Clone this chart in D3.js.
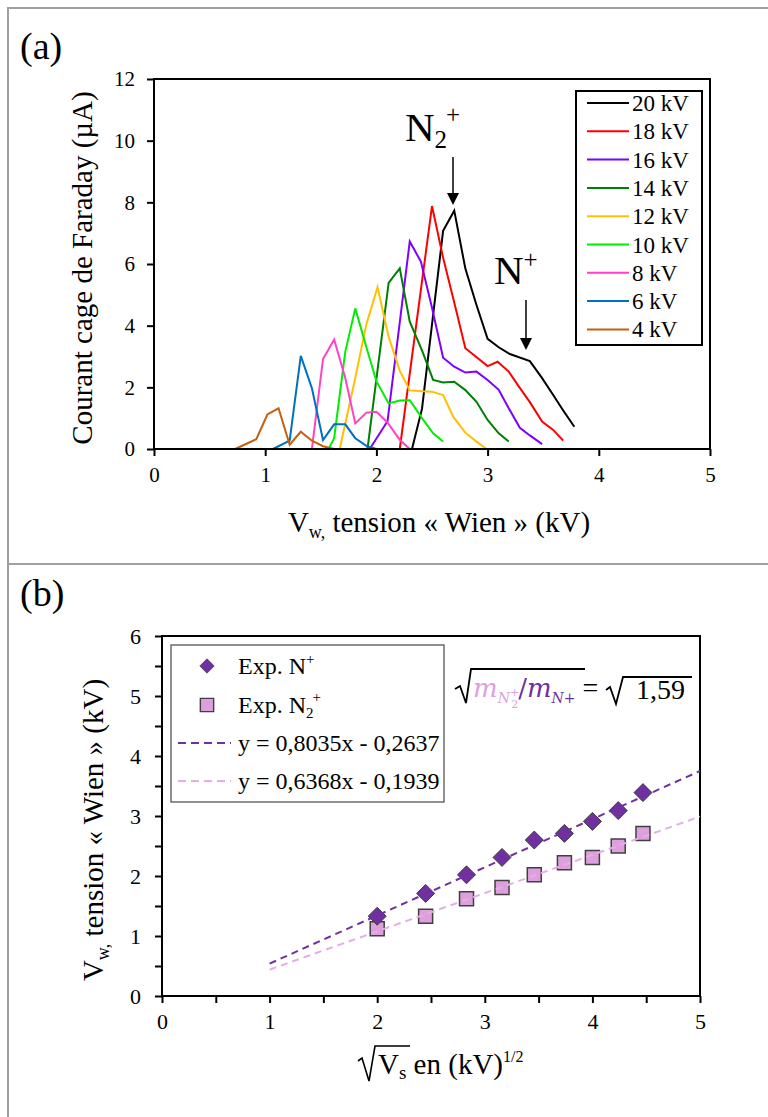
<!DOCTYPE html>
<html><head><meta charset="utf-8">
<script src="https://cdn.jsdelivr.net/npm/d3@7"></script>
<style>body{margin:0;background:#fff;} svg{display:block;font-family:"Liberation Serif","Times New Roman",serif;}</style>
</head><body><svg id="c" width="768" height="1117"></svg>
<script>
// ---------- Panel (a) data : [V_w (kV), current (µA)] ----------
const seriesLabels = ["20 kV","18 kV","16 kV","14 kV","12 kV","10 kV","8 kV","6 kV","4 kV"];
const seriesColors = ["#000000","#ff0000","#7f00ff","#008000","#ffc000","#00ee00","#ff40c8","#0070c0","#c5600f"];
const s20 = [[2.32,0],[2.41,1.3],[2.6,7.08],[2.7,7.73],[2.8,5.85],[2.9,4.67],[3.0,3.57],[3.1,3.3],[3.2,3.08],[3.38,2.85],[3.49,2.3],[3.59,1.75],[3.68,1.25],[3.78,0.72]];
const s18 = [[2.21,0],[2.5,7.88],[2.6,6.2],[2.7,4.75],[2.8,3.27],[3.0,2.69],[3.09,2.83],[3.19,2.51],[3.28,2.03],[3.38,1.52],[3.49,0.89],[3.59,0.62],[3.68,0.27]];
const s16 = [[1.94,0],[2.1,0.9],[2.3,6.73],[2.4,6.08],[2.5,4.58],[2.6,2.96],[2.7,2.67],[2.8,2.48],[2.9,2.51],[3.0,2.24],[3.1,1.92],[3.19,1.32],[3.29,0.69],[3.38,0.44],[3.49,0.16]];
const s14 = [[1.92,0],[2.11,5.39],[2.21,5.86],[2.3,4.13],[2.41,3.2],[2.51,2.24],[2.6,2.16],[2.7,2.18],[2.8,1.91],[2.9,1.53],[3.0,0.94],[3.1,0.51],[3.19,0.24]];
const s12 = [[1.67,0],[1.81,2.3],[1.91,4.05],[2.01,5.25],[2.11,3.64],[2.21,2.54],[2.3,1.9],[2.41,1.87],[2.5,1.86],[2.6,1.75],[2.69,1.05],[2.8,0.53],[2.9,0.24],[2.99,0]];
const s10 = [[1.57,0],[1.62,0.35],[1.72,3.15],[1.81,4.56],[1.91,3.3],[2.0,2.2],[2.11,1.48],[2.21,1.57],[2.3,1.58],[2.41,1.0],[2.51,0.51],[2.6,0.24]];
const s8  = [[1.42,0],[1.52,2.92],[1.62,3.55],[1.72,2.3],[1.81,0.83],[1.91,1.18],[2.0,1.21],[2.1,0.86],[2.21,0.3],[2.3,0]];
const s6  = [[1.07,0],[1.22,0.27],[1.32,3.02],[1.42,1.97],[1.52,0.29],[1.62,0.8],[1.72,0.8],[1.81,0.35],[1.92,0.08],[2.0,0]];
const s4  = [[0.73,0],[0.92,0.32],[1.02,1.12],[1.12,1.32],[1.22,0.14],[1.32,0.56],[1.42,0.27],[1.52,0.09],[1.62,0]];
const seriesA = [s20,s18,s16,s14,s12,s10,s8,s6,s4];
const xTicksA = [0,1,2,3,4,5];
const yTicksA = [0,2,4,6,8,10,12];

// ---------- Panel (b) data ----------
const sqrtVs   = [2.0,2.45,2.83,3.16,3.46,3.74,4.0,4.24,4.47];
const vwNplus  = [1.33,1.71,2.02,2.31,2.6,2.71,2.91,3.09,3.39];
const vwN2plus = [1.12,1.33,1.62,1.81,2.02,2.22,2.31,2.5,2.71];
const fitX      = [1,5];
const fitNplus  = [0.54,3.75];
const fitN2plus = [0.44,2.99];
const xTicksB = [0,0.5,1,1.5,2,2.5,3,3.5,4,4.5,5];
const yTicksB = [0,0.5,1,1.5,2,2.5,3,3.5,4,4.5,5,5.5,6];

const FONT = "'Liberation Serif','Times New Roman',serif";
const svg = d3.select("#c");

// outer frame
svg.append("path").attr("d","M8,1117 V8 H768 M8,564 H768")
  .attr("stroke","#a0a0a0").attr("stroke-width",2).attr("fill","none");
svg.append("text").attr("x",20).attr("y",59).attr("font-size",38).text("(a)");
svg.append("text").attr("x",20).attr("y",606).attr("font-size",38).text("(b)");

function styleAxis(g, fs){
  g.attr("font-family",FONT).attr("font-size",fs);
  g.select(".domain").remove();
  g.selectAll(".tick line").attr("stroke","#000").attr("stroke-width",2);
  g.selectAll(".tick text").attr("fill","#000");
}

// ================= Panel (a) =================
const xA = d3.scaleLinear().domain([0,5]).range([154,710]);
const yA = d3.scaleLinear().domain([0,12]).range([449,79]);

const lineA = d3.line().x(d=>xA(d[0])).y(d=>yA(d[1]));
seriesA.forEach((s,i)=>{
  svg.append("path").attr("d",lineA(s)).attr("fill","none")
    .attr("stroke",seriesColors[i]).attr("stroke-width",2).attr("stroke-linejoin","miter");
});

const gxA = svg.append("g").attr("transform","translate(0,449)")
  .call(d3.axisBottom(xA).tickValues(xTicksA).tickSize(7).tickPadding(11).tickFormat(d3.format("d")));
styleAxis(gxA,21);
const gyA = svg.append("g").attr("transform","translate(154,0)")
  .call(d3.axisLeft(yA).tickValues(yTicksA).tickSize(7).tickPadding(12).tickFormat(d3.format("d")));
styleAxis(gyA,21);
svg.append("rect").attr("x",154).attr("y",79).attr("width",556).attr("height",370)
  .attr("fill","none").attr("stroke","#000").attr("stroke-width",2);

// axis titles (a)
svg.append("text").attr("transform","translate(92,268) rotate(-90)").attr("text-anchor","middle")
  .attr("font-size",29).text("Courant cage de Faraday (µA)");
{
  const t = svg.append("text").attr("x",439).attr("y",532).attr("text-anchor","middle").attr("font-size",29);
  t.append("tspan").text("V");
  t.append("tspan").attr("font-size",18).attr("dy",6).text("w,");
  t.append("tspan").attr("dy",-6).text(" tension « Wien » (kV)");
}

// legend (a)
svg.append("rect").attr("x",576).attr("y",91).attr("width",126).attr("height",254)
  .attr("fill","#fff").attr("stroke","#000").attr("stroke-width",2);
seriesLabels.forEach((lab,i)=>{
  const y = 103 + i*28.3;
  svg.append("line").attr("x1",587).attr("x2",629).attr("y1",y).attr("y2",y)
    .attr("stroke",seriesColors[i]).attr("stroke-width",2);
  svg.append("text").attr("x",632).attr("y",y+8).attr("font-size",23).text(lab);
});

// annotations (a)
function arrow(x,y1,y2){
  svg.append("line").attr("x1",x).attr("x2",x).attr("y1",y1).attr("y2",y2-11).attr("stroke","#000").attr("stroke-width",1.5);
  svg.append("path").attr("d",`M${x-6},${y2-12} L${x+6},${y2-12} L${x},${y2} Z`).attr("fill","#000");
}
{
  const t = svg.append("text").attr("x",405).attr("y",141).attr("font-size",41);
  t.append("tspan").text("N");
  t.append("tspan").attr("font-size",25).attr("dy",7).text("2");
  t.append("tspan").attr("font-size",25).attr("dx",-1).attr("dy",-25).text("+");
  arrow(453,157,205);
  const t2 = svg.append("text").attr("x",494).attr("y",284).attr("font-size",41);
  t2.append("tspan").text("N");
  t2.append("tspan").attr("font-size",25).attr("dy",-16).text("+");
  arrow(526,300,350);
}

// ================= Panel (b) =================
const xB = d3.scaleLinear().domain([0,5]).range([162,700]);
const yB = d3.scaleLinear().domain([0,6]).range([996,636]);

const gxB = svg.append("g").attr("transform","translate(0,996)")
  .call(d3.axisBottom(xB).tickValues(xTicksB).tickSize(7).tickPadding(10)
    .tickFormat(d=>Number.isInteger(d)?d3.format("d")(d):""));
styleAxis(gxB,22);
const gyB = svg.append("g").attr("transform","translate(162,0)")
  .call(d3.axisLeft(yB).tickValues(yTicksB).tickSize(7).tickPadding(14)
    .tickFormat(d=>Number.isInteger(d)?d3.format("d")(d):""));
styleAxis(gyB,22);
svg.append("rect").attr("x",162).attr("y",636).attr("width",538).attr("height",360)
  .attr("fill","none").attr("stroke","#000").attr("stroke-width",2);

const cN = "#7030a0", cN2 = "#dda0dd", cN2line = "#e4aee8";
const diamond = "M0,-9 L9,0 L0,9 L-9,0 Z";
const square = "M-7,-7 H7 V7 H-7 Z";

// markers
sqrtVs.forEach((x,i)=>{
  svg.append("path").attr("d",square).attr("transform",`translate(${xB(x)},${yB(vwN2plus[i])})`)
    .attr("fill",cN2).attr("stroke","#404040").attr("stroke-width",1.5);
  svg.append("path").attr("d",diamond).attr("transform",`translate(${xB(x)},${yB(vwNplus[i])})`)
    .attr("fill",cN).attr("stroke","#404040").attr("stroke-width",1);
});
// trend lines
const lineB = d3.line().x(d=>xB(d[0])).y(d=>yB(d[1]));
svg.append("path").attr("d",lineB(fitX.map((x,i)=>[x,fitNplus[i]]))).attr("fill","none")
  .attr("stroke",cN).attr("stroke-width",2).attr("stroke-dasharray","7,5");
svg.append("path").attr("d",lineB(fitX.map((x,i)=>[x,fitN2plus[i]]))).attr("fill","none")
  .attr("stroke",cN2line).attr("stroke-width",2).attr("stroke-dasharray","7,5");

// legend (b)
svg.append("rect").attr("x",171).attr("y",645).attr("width",273).attr("height",157)
  .attr("fill","#fff").attr("stroke","#555").attr("stroke-width",1.3);
svg.append("path").attr("d",diamond).attr("transform","translate(207,666) scale(0.8)").attr("fill",cN).attr("stroke","#404040");
svg.append("path").attr("d",square).attr("transform","translate(207,705) scale(0.95)").attr("fill",cN2).attr("stroke","#404040").attr("stroke-width",1.5);
svg.append("line").attr("x1",178).attr("x2",231).attr("y1",743).attr("y2",743).attr("stroke",cN).attr("stroke-width",2).attr("stroke-dasharray","8,5");
svg.append("line").attr("x1",178).attr("x2",231).attr("y1",781).attr("y2",781).attr("stroke",cN2line).attr("stroke-width",2).attr("stroke-dasharray","8,5");
{
  const t1 = svg.append("text").attr("x",238).attr("y",674).attr("font-size",24);
  t1.append("tspan").text("Exp. N");
  t1.append("tspan").attr("font-size",15).attr("dy",-10).text("+");
  const t2 = svg.append("text").attr("x",238).attr("y",713).attr("font-size",24);
  t2.append("tspan").text("Exp. N");
  t2.append("tspan").attr("font-size",15).attr("dy",5).text("2");
  t2.append("tspan").attr("font-size",15).attr("dx",-1).attr("dy",-16).text("+");
  svg.append("text").attr("x",238).attr("y",751).attr("font-size",24).text("y = 0,8035x - 0,2637");
  svg.append("text").attr("x",238).attr("y",789).attr("font-size",24).text("y = 0,6368x - 0,1939");
}

// formula sqrt(m_N2+/m_N+) = sqrt(1,59)
{
  const f = svg.append("text").attr("x",473).attr("y",697).attr("font-size",26).attr("font-family","'DejaVu Serif',serif");
  f.append("tspan").attr("fill",cN2).attr("font-style","italic").text("m");
  f.append("tspan").attr("fill",cN2).attr("font-style","italic").attr("font-size",14).attr("dy",6).text("N");
  f.append("tspan").attr("fill",cN2).attr("font-size",11).attr("dy",-7).text("+");
  f.append("tspan").attr("fill",cN2).attr("font-size",11).attr("dx",-8).attr("dy",12).text("2");
  f.append("tspan").attr("fill",cN).attr("dy",-11).text("/");
  f.append("tspan").attr("fill",cN).attr("font-style","italic").text("m");
  f.append("tspan").attr("fill",cN).attr("font-style","italic").attr("font-size",14).attr("dy",6).text("N+");
  f.append("tspan").attr("fill","#000").attr("dy",-6).attr("font-family",FONT).attr("font-size",28).text(" = ");
  svg.append("path").attr("d","M455,689 L460,686 L466,703 L471,669 L585,669").attr("fill","none").attr("stroke","#000").attr("stroke-width",1.8);
  svg.append("path").attr("d","M606,690 L610,687 L616,704 L623,677 L692,677").attr("fill","none").attr("stroke","#000").attr("stroke-width",1.8);
  svg.append("text").attr("x",636).attr("y",699).attr("font-size",28).text("1,59");
}

// axis titles (b)
{
  const t = svg.append("text").attr("transform","translate(103,830) rotate(-90)").attr("text-anchor","middle").attr("font-size",29);
  t.append("tspan").text("V");
  t.append("tspan").attr("font-size",18).attr("dy",6).text("w,");
  t.append("tspan").attr("dy",-6).text(" tension « Wien » (kV)");
}
{
  const x0 = 378, y0 = 1074;
  const t = svg.append("text").attr("x",x0).attr("y",y0).attr("font-size",29);
  t.append("tspan").text("V");
  t.append("tspan").attr("font-size",19).attr("dy",5).text("s");
  t.append("tspan").attr("dy",-5).text(" en (kV)");
  t.append("tspan").attr("font-size",16).attr("dy",-12).text("1/2");
  svg.append("path").attr("d",`M358,1061 L362,1058 L369,1081 L375,1046 L410,1046`).attr("fill","none").attr("stroke","#000").attr("stroke-width",1.6);
}
</script></body></html>
